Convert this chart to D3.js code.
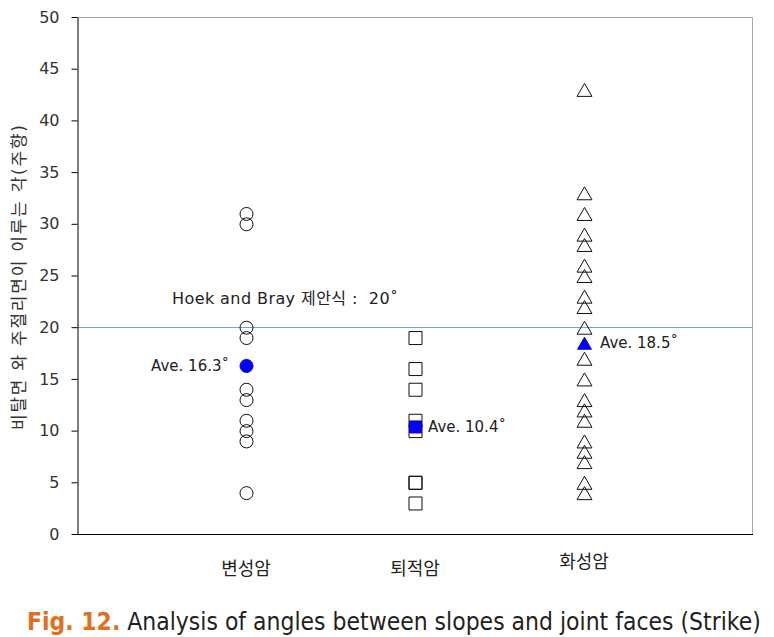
<!DOCTYPE html>
<html lang="ko">
<head>
    <meta charset="UTF-8">
    <title>Fig. 12 Strike</title>
    <script src="https://d3js.org/d3.v7.min.js"></script>
    <style>
        body { margin: 0; background: #fff; }
        svg { display: block; }
        text { font-family: "DejaVu Sans", "Noto Sans CJK KR", sans-serif; }
    </style>
</head>
<body>
    <svg id="chart" width="774" height="637"></svg>
    <script>
        // Data
        const categories = ["변성암", "퇴적암", "화성암"];
        const metamorphic = [31, 30, 20, 19, 14, 13, 11, 10, 9, 4];
        const sedimentary = [19, 16, 14, 11, 10, 5, 5, 3];
        const igneous = [43, 33, 31, 29, 28, 26, 25, 23, 22, 20, 17, 15, 13, 12, 11, 9, 8, 7, 5, 4];
        const averages = [16.3, 10.4, 18.5];
        const averageLabels = ["Ave. 16.3˚", "Ave. 10.4˚", "Ave. 18.5˚"];
        const hoekBray = 20;
        const hoekBrayLabel = "Hoek and Bray 제안식 :  20˚";
        const yTicks = [0, 5, 10, 15, 20, 25, 30, 35, 40, 45, 50];
        const yLabel = "비탈면 와 주절리면이 이루는 각(주향)";

        const W = 774, H = 637;
        const plot = { left: 77, right: 753, top: 17, bottom: 534 };

        const svg = d3.select("#chart");
        svg.append("rect").attr("width", W).attr("height", H).attr("fill", "#fff");

        const x = d3.scalePoint().domain(categories).range([plot.left, plot.right]).padding(1);
        const y = d3.scaleLinear().domain([0, 50]).range([plot.bottom, plot.top]);

        // plot frame: top/right light gray
        svg.append("path")
            .attr("d", `M${plot.left},${plot.top + 0.5}H${plot.right - 0.5}V${plot.bottom}`)
            .attr("fill", "none")
            .attr("stroke", "#a6a6a6")
            .attr("stroke-width", 1);

        // Hoek and Bray reference line
        svg.append("line")
            .attr("x1", plot.left).attr("x2", plot.right)
            .attr("y1", Math.round(y(hoekBray)) + 0.5).attr("y2", Math.round(y(hoekBray)) + 0.5)
            .attr("stroke", "#7f9fc0")
            .attr("stroke-width", 1);

        // y axis
        const yAxis = svg.append("g")
            .attr("transform", `translate(${plot.left + 0.5},0)`)
            .call(d3.axisLeft(y).tickValues(yTicks).tickSize(6).tickPadding(12).tickSizeOuter(0));
        yAxis.select(".domain").attr("stroke", "#000");
        yAxis.selectAll(".tick line").attr("stroke", "#000");
        yAxis.selectAll(".tick text")
            .attr("font-family", "\"DejaVu Sans\", sans-serif")
            .attr("font-size", 16)
            .attr("fill", "#333");

        // x axis (line only)
        const xAxis = svg.append("g")
            .attr("transform", `translate(0,${plot.bottom + 0.5})`)
            .call(d3.axisBottom(x).tickSize(0).tickSizeOuter(0).tickFormat(""));
        xAxis.select(".domain")
            .attr("d", `M${plot.left},0H${plot.right}`)
            .attr("stroke", "#000");

        svg.selectAll(".cat-label")
            .data(categories)
            .enter()
            .append("text")
            .attr("class", "cat-label")
            .attr("x", d => x(d))
            .attr("y", (d, i) => i === 2 ? 568 : 575)
            .attr("text-anchor", "middle")
            .attr("font-size", 18)
            .attr("fill", "#222")
            .text(d => d);

        // y label
        svg.append("text")
            .attr("transform", `translate(25,${(plot.top + plot.bottom) / 2 + 2}) rotate(-90)`)
            .attr("text-anchor", "middle")
            .attr("font-size", 17)
            .attr("textLength", 305)
            .attr("lengthAdjust", "spacing")
            .attr("fill", "#333")
            .text(yLabel);

        // marker shapes
        const triangle = {
            draw(ctx, size) {
                const w = Math.sqrt(size) * 1.15, h = Math.sqrt(size);
                ctx.moveTo(0, -h / 2);
                ctx.lineTo(w / 2, h / 2);
                ctx.lineTo(-w / 2, h / 2);
                ctx.closePath();
            }
        };
        const shapes = [
            d3.symbol(d3.symbolCircle, Math.PI * 6.5 * 6.5),
            d3.symbol(d3.symbolSquare, 13 * 13),
            d3.symbol(triangle, 13 * 13)
        ];
        const groups = [metamorphic, sedimentary, igneous];

        groups.forEach((values, i) => {
            svg.append("g")
                .selectAll("path")
                .data(values)
                .enter()
                .append("path")
                .attr("transform", d => `translate(${x(categories[i]) + 0.5},${y(d) + 0.5})`)
                .attr("d", shapes[i]())
                .attr("fill", "none")
                .attr("stroke", "#111")
                .attr("stroke-width", 1);
        });

        // averages
        const avgShapes = [
            d3.symbol(d3.symbolCircle, Math.PI * 6.5 * 6.5),
            d3.symbol(d3.symbolSquare, 12 * 12),
            d3.symbol(triangle, 12 * 12)
        ];
        averages.forEach((v, i) => {
            svg.append("path")
                .attr("transform", `translate(${x(categories[i]) + 0.5},${y(v) + 0.5})`)
                .attr("d", avgShapes[i]())
                .attr("fill", "#0000ff")
                .attr("stroke", "#0000cc")
                .attr("stroke-width", 1);
            const left = i === 0;
            svg.append("text")
                .attr("x", x(categories[i]) + (left ? -17 : (i === 1 ? 13 : 16)))
                .attr("y", y(v))
                .attr("dy", "0.35em")
                .attr("text-anchor", left ? "end" : "start")
                .attr("font-size", 15)
                .attr("fill", "#222")
                .text(averageLabels[i]);
        });

        // Hoek and Bray label
        svg.append("text")
            .attr("x", 172)
            .attr("y", y(hoekBray) - 23)
            .attr("font-size", 16)
            .attr("textLength", 226)
            .attr("lengthAdjust", "spacing")
            .style("white-space", "pre")
            .attr("fill", "#222")
            .text(hoekBrayLabel);

        // caption
        const caption = svg.append("text")
            .attr("x", 0)
            .attr("y", 0)
            .attr("font-family", "\"Noto Sans\", sans-serif")
            .attr("font-size", 24);
        caption.append("tspan")
            .attr("font-weight", "bold")
            .attr("fill", "#e0701e")
            .text("Fig. 12.");
        caption.append("tspan")
            .attr("fill", "#231f20")
            .text(" Analysis of angles between slopes and joint faces (Strike)");
        const cw = caption.node().getComputedTextLength();
        caption.attr("transform", `translate(27,630) scale(${734 / cw},1)`);
    </script>
</body>
</html>
